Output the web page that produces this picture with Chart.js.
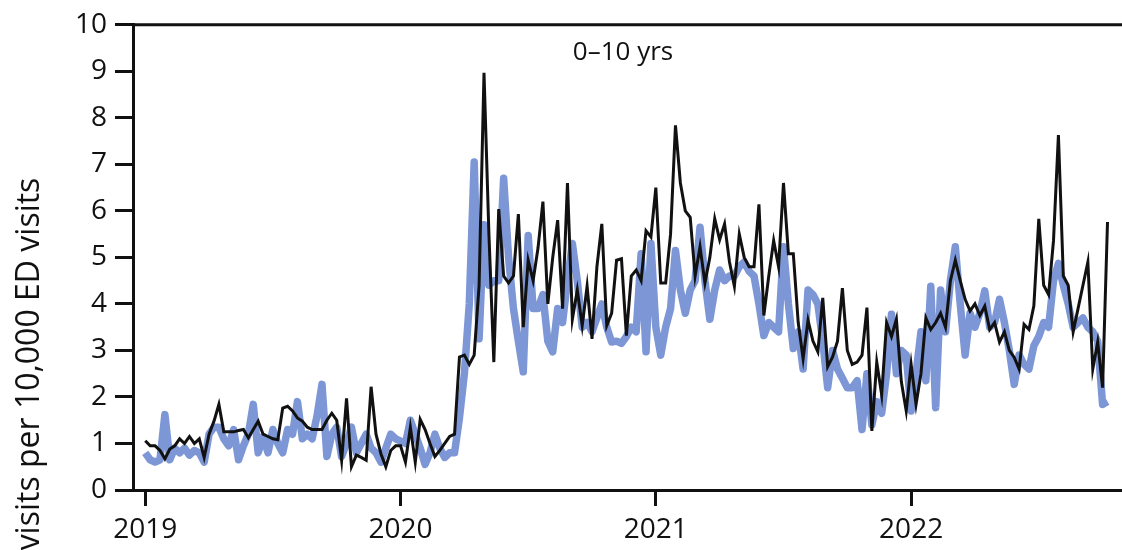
<!DOCTYPE html>
<html>
<head>
<meta charset="utf-8">
<script src="https://cdn.jsdelivr.net/npm/chart.js@4"></script>
<style>
  html, body { margin: 0; padding: 0; background: #fff; }
  canvas { display: block; }
</style>
</head>
<body>
<canvas id="chart" width="1122" height="550"></canvas>
<script>
// semanas desde jan/2019 (uma por ponto)
var startYear = 2019;
var weeksPerYear = 52;
var yearTicks = [2019, 2020, 2021, 2022];
var yTicks = [0, 1, 2, 3, 4, 5, 6, 7, 8, 9, 10];

// linha preta (fina)
var blackValues = [
  1.06, 0.95, 0.95, 0.85, 0.67, 0.88, 0.95, 1.1, 1.0, 1.15,
  1.0, 1.1, 0.7, 1.2, 1.48, 1.84, 1.25, 1.25, 1.25, 1.28,
  1.3, 1.12, 1.3, 1.48, 1.2, 1.15, 1.1, 1.08, 1.76, 1.8,
  1.7, 1.55, 1.48, 1.35, 1.3, 1.3, 1.3, 1.5, 1.65, 1.5,
  0.64, 1.97, 0.5, 0.75, 0.7, 0.64, 2.22, 1.2, 0.78, 0.5,
  0.85, 0.95,
  // 2020
  0.95, 0.6, 1.35, 0.6, 1.52, 1.3, 1.0, 0.72, 0.85, 1.0,
  1.15, 1.2, 2.86, 2.9, 2.7, 2.9, 4.4, 8.97, 5.5, 2.75,
  6.04, 4.6, 4.45, 4.6, 5.93, 3.5, 4.94, 4.5, 5.2, 6.2,
  4.0, 5.0, 5.8, 3.9, 6.6, 3.67, 4.3, 3.53, 4.38, 3.25,
  4.8, 5.72, 3.53, 3.8, 4.94, 4.97, 3.32, 4.6, 4.73, 4.5,
  5.57, 5.44,
  // 2021
  6.5, 4.45, 4.45, 5.5, 7.84, 6.6, 6.0, 5.86, 4.6, 5.23,
  4.45, 5.0, 5.83, 5.38, 5.72, 4.9, 4.38, 5.5, 5.0, 4.8,
  4.8, 6.14, 3.75, 4.6, 5.36, 4.8, 6.6, 5.08, 5.08, 3.6,
  2.82, 3.65, 3.2, 2.97, 4.13, 2.65, 2.86, 3.2, 4.34, 3.0,
  2.7, 2.75, 2.9, 3.92, 1.27, 2.75, 2.05, 3.6, 3.3, 3.67,
  2.33, 1.7,
  // 2022
  2.7, 1.84, 2.5, 3.7, 3.45, 3.6, 3.8, 3.5, 4.5, 4.94,
  4.5, 4.1, 3.85, 4.0, 3.75, 3.95, 3.45, 3.6, 3.18, 3.4,
  3.0, 2.85, 2.6, 3.56, 3.45, 3.96, 5.83, 4.4, 4.2, 5.36,
  7.63, 4.6, 4.4, 3.4, 3.9, 4.4, 4.9, 2.6, 3.18, 2.2,
  5.76
];

// linha azul (grossa)
var blueValues = [
  0.8, 0.65, 0.6, 0.65, 1.62, 0.65, 0.9, 0.8, 0.9, 0.75,
  0.85, 0.8, 0.6, 1.2, 1.35, 1.35, 1.1, 0.95, 1.3, 0.65,
  0.95, 1.2, 1.84, 0.8, 1.15, 0.8, 1.3, 1.0, 0.8, 1.3,
  1.2, 1.9, 1.1, 1.2, 1.1, 1.6, 2.27, 0.72, 1.2, 1.35,
  0.72, 1.0, 1.35, 0.8, 1.0, 1.2, 0.9, 0.8, 0.6, 0.9,
  1.2, 1.1,
  // 2020
  1.05, 1.0, 1.5, 1.2, 0.9, 0.55, 0.8, 1.2, 0.9, 0.7,
  0.8, 0.8, 1.55, 2.5, 4.0, 7.05, 3.25, 5.7, 4.4, 4.5,
  4.5, 6.7, 5.0, 3.9, 3.2, 2.54, 5.47, 3.9, 3.9, 4.2,
  3.2, 2.97, 3.9, 3.6, 4.5, 5.3, 4.5, 3.5, 3.6, 3.4,
  3.7, 4.0, 3.5, 3.18, 3.2, 3.15, 3.3, 3.5, 3.4, 5.08,
  2.97, 5.3,
  // 2021
  3.5, 2.9, 3.5, 3.9, 5.15, 4.3, 3.8, 4.3, 4.5, 5.65,
  4.5, 3.67, 4.3, 4.73, 4.5, 4.6, 4.6, 4.8, 4.9, 4.7,
  4.6, 4.0, 3.32, 3.6, 3.5, 3.4, 5.23, 4.0, 3.04, 3.4,
  2.6, 4.3, 4.2, 4.0, 3.2, 2.2, 3.0, 2.6, 2.4, 2.2,
  2.2, 2.35, 1.3, 2.5, 1.4, 1.9, 1.65, 2.5, 3.78, 2.5,
  3.0, 2.9,
  // 2022
  1.7, 2.5, 3.4, 2.35, 4.38, 1.77, 4.3, 3.4, 4.5, 5.23,
  4.0, 2.9, 3.8, 3.5, 3.8, 4.28, 3.5, 3.6, 4.1, 3.6,
  3.0, 2.27, 2.9, 2.7, 2.6, 3.1, 3.3, 3.6, 3.5, 4.5,
  4.87, 4.4, 4.0, 3.5, 3.6, 3.7, 3.5, 3.4, 3.2, 1.84,
  1.9
];

var panelTitle = "0\u201310 yrs";
var yAxisTitle = "visits per 10,000 ED visits";
var fontFamily = "'Open Sans', 'DejaVu Sans', sans-serif";

function toPoints(values) {
  var pts = [];
  for (var i = 0; i < values.length; i++) {
    pts.push({ x: startYear + i / weeksPerYear, y: values[i] });
  }
  return pts;
}

// desenha a linha de cima, o título do painel e o título do eixo y
var extras = {
  id: "extras",
  afterDraw: function (chart) {
    var c = chart.ctx;
    var area = chart.chartArea;
    c.save();
    c.strokeStyle = "#111";
    c.lineWidth = 3;
    c.beginPath();
    c.moveTo(area.left - 1, area.top);
    c.lineTo(chart.width, area.top);
    c.stroke();

    c.fillStyle = "#111";
    c.font = "26px " + fontFamily;
    c.textAlign = "center";
    c.textBaseline = "middle";
    c.fillText(panelTitle, 623, 53);

    c.translate(30, 364);
    c.rotate(-Math.PI / 2);
    c.font = "32px " + fontFamily;
    c.fillText(yAxisTitle, 0, 0);
    c.restore();
  }
};

var ctx = document.getElementById("chart").getContext("2d");
var grafico = new Chart(ctx, {
  type: "line",
  data: {
    datasets: [
      {
        label: "black",
        data: toPoints(blackValues),
        borderColor: "#111",
        borderWidth: 3,
        pointRadius: 0,
        tension: 0,
        order: 1
      },
      {
        label: "blue",
        data: toPoints(blueValues),
        borderColor: "rgb(124,150,214)",
        borderWidth: 7.5,
        pointRadius: 0,
        tension: 0,
        borderJoinStyle: "round",
        order: 2
      }
    ]
  },
  options: {
    responsive: false,
    animation: false,
    devicePixelRatio: 1,
    layout: { padding: { top: 18, left: 0, right: 0, bottom: 0 } },
    plugins: { legend: { display: false }, tooltip: { enabled: false } },
    scales: {
      x: {
        type: "linear",
        min: 2018.952,
        max: 2022.826,
        afterBuildTicks: function (scale) {
          scale.ticks = yearTicks.map(function (v) { return { value: v }; });
        },
        afterFit: function (scale) { scale.height = 60; },
        ticks: {
          color: "#111",
          font: { family: fontFamily, size: 28 },
          padding: 7,
          maxRotation: 0,
          callback: function (v) { return String(v); }
        },
        grid: {
          drawOnChartArea: false,
          drawTicks: true,
          tickLength: 16,
          tickWidth: 3,
          tickColor: "#111"
        },
        border: { display: true, color: "#111", width: 3 }
      },
      y: {
        min: 0,
        max: 10,
        afterBuildTicks: function (scale) {
          scale.ticks = yTicks.map(function (v) { return { value: v }; });
        },
        afterFit: function (scale) { scale.width = 133; },
        ticks: {
          color: "#111",
          font: { family: fontFamily, size: 28 },
          padding: 8
        },
        grid: {
          drawOnChartArea: false,
          drawTicks: true,
          tickLength: 18,
          tickWidth: 3,
          tickColor: "#111"
        },
        border: { display: true, color: "#111", width: 3 }
      }
    }
  },
  plugins: [extras]
});
</script>
</body>
</html>
